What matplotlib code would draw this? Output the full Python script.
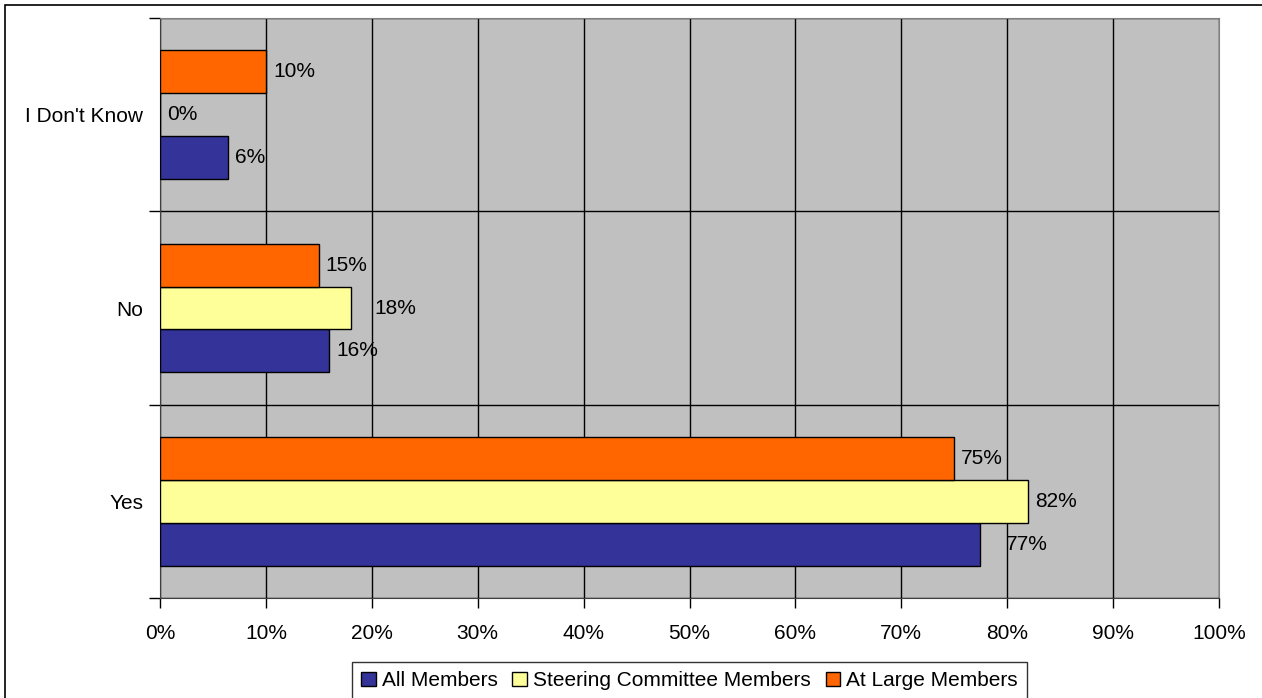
import matplotlib
matplotlib.use("Agg")
import matplotlib.pyplot as plt
import matplotlib.patches as patches
import numpy as np

plt.rcParams['font.family'] = ['Liberation Sans', 'DejaVu Sans']

categories = ["Yes", "No", "I Don't Know"]
series_names = ["All Members", "Steering Committee Members", "At Large Members"]
all_members = [77.4, 16.0, 6.4]
steering = [82.0, 18.0, 0.0]
at_large = [75.0, 15.0, 10.0]
labels_all = ["77%", "16%", "6%"]
labels_sc = ["82%", "18%", "0%"]
labels_al = ["75%", "15%", "10%"]
colors = ["#333399", "#FFFF99", "#FF6600"]

FS = 15
W, H = 1262, 698
fig = plt.figure(figsize=(W / 100, H / 100), dpi=100)
ax = fig.add_axes([160 / W, 1 - 598 / H, (1219 - 160) / W, (598 - 18) / H])
ax.set_facecolor("#C0C0C0")

# outer chart border (only top/left visible in the picture)
fig.patches.append(patches.Rectangle((5 / W, -0.1), 1.2, 1 - 5 / H + 0.1,
                                     transform=fig.transFigure, fill=False,
                                     ec="black", lw=1.2, zorder=0))

y = np.arange(len(categories))
h = 0.222
series = [all_members, steering, at_large]
labels = [labels_all, labels_sc, labels_al]
# per-label pixel gap between bar end and text, as in the original layout
gaps = [[26, 7, 7], [7, 24, 7], [7, 7, 7]]

for i, (vals, lab, col) in enumerate(zip(series, labels, colors)):
    pos = y + (i - 1) * h
    ax.barh(pos, vals, height=h, color=col, edgecolor="black", lw=1,
            zorder=3, label=series_names[i])
    for j, (v, t) in enumerate(zip(vals, lab)):
        ax.annotate(t, (v, pos[j]), xytext=(gaps[i][j], 0),
                    textcoords="offset pixels", va="center", ha="left",
                    fontsize=FS, zorder=4)

ax.set_xlim(0, 100)
ax.set_ylim(-0.5, 2.5)
ax.set_xticks(np.arange(0, 101, 10))
ax.set_xticklabels([f"{v}%" for v in range(0, 101, 10)], fontsize=FS)
ax.set_yticks(y)
ax.set_yticklabels(categories, fontsize=FS)
ax.set_yticks([-0.5, 0.5, 1.5, 2.5], minor=True)
ax.tick_params(axis="y", which="major", length=0, pad=12)
ax.tick_params(axis="y", which="minor", length=8, width=1, color="black")
ax.tick_params(axis="x", length=7, width=1, pad=12)

ax.grid(axis="x", which="major", color="black", lw=1, zorder=1)
ax.grid(axis="y", which="minor", color="black", lw=1, zorder=1)
ax.set_axisbelow(True)

for s in ["top", "right"]:
    ax.spines[s].set_color("#808080")
for s in ["left", "bottom"]:
    ax.spines[s].set_color("#404040")

leg = ax.legend(loc="upper center", bbox_to_anchor=(689.5 / W, 1 - 662 / H),
                bbox_transform=fig.transFigure, ncol=3, fontsize=FS,
                frameon=True, fancybox=False, handlelength=0.7,
                handleheight=0.7, handletextpad=0.3, columnspacing=0.7,
                borderpad=0.45, borderaxespad=0)
leg.get_frame().set_edgecolor("black")
leg.get_frame().set_linewidth(1)

fig.savefig("out.png", dpi=100)
